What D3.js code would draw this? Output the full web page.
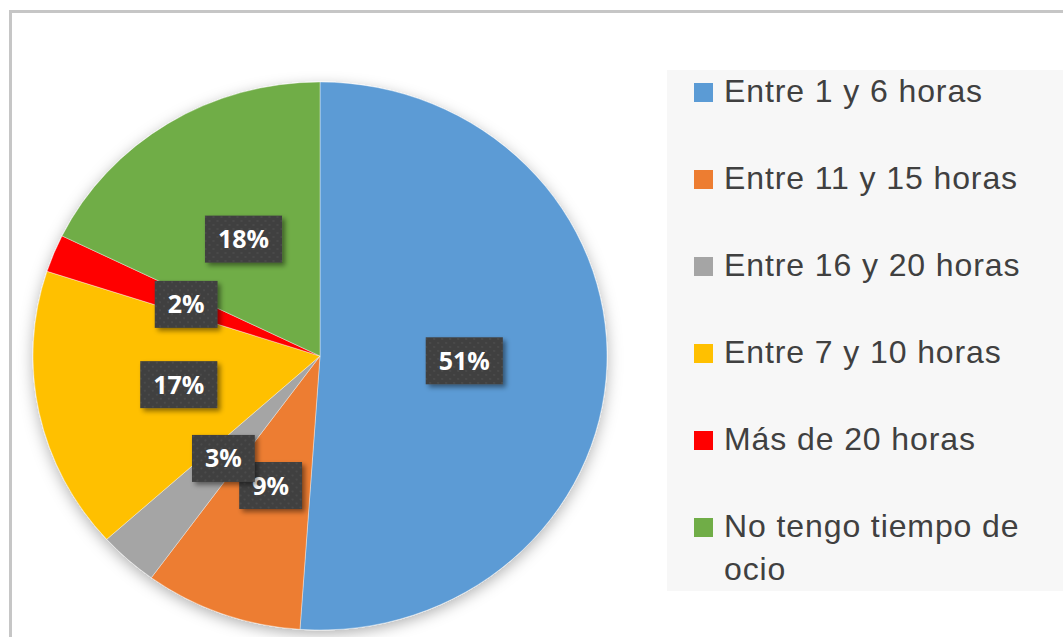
<!DOCTYPE html>
<html>
<head>
<meta charset="utf-8">
<script src="https://cdn.jsdelivr.net/npm/d3@7"></script>
<style>
  html, body { margin: 0; padding: 0; background: #fff; }
  svg { display: block; }
</style>
</head>
<body>
<div id="chart"></div>
<script>
// Data
const categories = [
  "Entre 1 y 6 horas",
  "Entre 11 y 15 horas",
  "Entre 16 y 20 horas",
  "Entre 7 y 10 horas",
  "Más de 20 horas",
  "No tengo tiempo de ocio"
];
const values = [46, 8, 3, 15, 2, 16];
const percentLabels = ["51%", "9%", "3%", "17%", "2%", "18%"];
const colors = ["#5B9BD5", "#ED7D31", "#A5A5A5", "#FFC000", "#FF0000", "#70AD47"];

// Options
const width = 1063;
const height = 637;
// The original picture is a little stretched sideways, so the pie is an ellipse
const cx = 320, cy = 356, radius = 274, stretchX = 287 / 274;
const labelRadius = radius * 0.503;
const legend = {x: 667, y: 70, w: 420, h: 521, markerX: 694, textX: 724, firstBaseline: 102, rowStep: 87, lineHeight: 43};
const textColor = "#404040";
const legendFont = "'Liberation Sans', Arial, sans-serif";

const svg = d3.select("#chart").append("svg")
  .attr("width", width)
  .attr("height", height)
  .attr("viewBox", [0, 0, width, height]);

const defs = svg.append("defs");

// Soft shadow round the pie
const pieShadow = defs.append("filter")
  .attr("id", "pieShadow")
  .attr("x", "-20%").attr("y", "-20%")
  .attr("width", "140%").attr("height", "140%");
pieShadow.append("feDropShadow")
  .attr("dx", 0).attr("dy", 4)
  .attr("stdDeviation", 7)
  .attr("flood-color", "#000")
  .attr("flood-opacity", 0.3);

// Shadow for the data labels
const labelShadow = defs.append("filter")
  .attr("id", "labelShadow")
  .attr("x", "-30%").attr("y", "-30%")
  .attr("width", "170%").attr("height", "170%");
labelShadow.append("feDropShadow")
  .attr("dx", 3).attr("dy", 3)
  .attr("stdDeviation", 2.5)
  .attr("flood-color", "#000")
  .attr("flood-opacity", 0.45);

// Dotted fill of the label boxes
const dots = defs.append("pattern")
  .attr("id", "dots")
  .attr("width", 8).attr("height", 8)
  .attr("patternUnits", "userSpaceOnUse");
dots.append("rect").attr("width", 8).attr("height", 8).attr("fill", "#3f3f3f");
dots.append("circle").attr("cx", 2).attr("cy", 2).attr("r", 1.1).attr("fill", "#4d4d4d");
dots.append("circle").attr("cx", 6).attr("cy", 6).attr("r", 1.1).attr("fill", "#4d4d4d");

// Outer border (only top and left edges show in the crop)
svg.append("rect")
  .attr("x", 10.5).attr("y", 11.5)
  .attr("width", width + 40).attr("height", height + 40)
  .attr("fill", "none")
  .attr("stroke", "#c6c6c6")
  .attr("stroke-width", 3);

// Legend background
svg.append("rect")
  .attr("x", legend.x).attr("y", legend.y)
  .attr("width", legend.w).attr("height", legend.h)
  .attr("fill", "#f7f7f7");

// Pie
const pie = d3.pie().sort(null).value(d => d)(values);
const arc = d3.arc().innerRadius(0).outerRadius(radius);
const labelArc = d3.arc().innerRadius(labelRadius).outerRadius(labelRadius);

const pieG = svg.append("g")
  .attr("transform", `translate(${cx},${cy})`);

pieG.append("g")
  .attr("transform", `scale(${stretchX},1)`)
  .attr("filter", "url(#pieShadow)")
  .selectAll("path")
  .data(pie)
  .join("path")
    .attr("d", arc)
    .attr("fill", (d, i) => colors[i])
    .attr("stroke", "#ffffff")
    .attr("stroke-opacity", 0.5)
    .attr("stroke-width", 0.75);

// Data labels
const labels = pieG.append("g")
  .selectAll("g")
  .data(pie)
  .join("g")
    .attr("transform", d => {
      const [x, y] = labelArc.centroid(d);
      return `translate(${x * stretchX},${y})`;
    });

labels.each(function(d, i) {
  const g = d3.select(this);
  const text = g.append("text")
    .attr("text-anchor", "middle")
    .attr("dy", "0.36em")
    .attr("fill", "#ffffff")
    .attr("font-family", "'Open Sans', 'Liberation Sans', Arial, sans-serif")
    .attr("font-weight", "bold")
    .attr("font-size", 25)
    .text(percentLabels[i]);
  const w = text.node().getComputedTextLength() + 26;
  const h = 47;
  g.insert("rect", "text")
    .attr("x", -w / 2).attr("y", -h / 2)
    .attr("width", w).attr("height", h)
    .attr("fill", "url(#dots)")
    .attr("filter", "url(#labelShadow)");
});

// Legend
const legendRows = svg.append("g")
  .selectAll("g")
  .data(categories)
  .join("g")
    .attr("transform", (d, i) => `translate(0,${legend.firstBaseline + i * legend.rowStep})`);

legendRows.append("rect")
  .attr("x", legend.markerX)
  .attr("y", -19)
  .attr("width", 19)
  .attr("height", 19)
  .attr("fill", (d, i) => colors[i]);

// Long names wrap onto two lines, like the original
const wrapAt = 320;
legendRows.append("text")
  .attr("x", legend.textX)
  .attr("fill", textColor)
  .attr("font-family", legendFont)
  .attr("font-size", 32)
  .attr("letter-spacing", 0.9)
  .each(function(d) {
    const t = d3.select(this);
    const words = d.split(" ");
    let line = [];
    let lineNo = 0;
    let tspan = t.append("tspan").attr("x", legend.textX).attr("y", 0);
    words.forEach(word => {
      line.push(word);
      tspan.text(line.join(" "));
      if (tspan.node().getComputedTextLength() > wrapAt && line.length > 1) {
        line.pop();
        tspan.text(line.join(" "));
        line = [word];
        lineNo++;
        tspan = t.append("tspan")
          .attr("x", legend.textX)
          .attr("y", lineNo * legend.lineHeight)
          .text(word);
      }
    });
  });
</script>
</body>
</html>
